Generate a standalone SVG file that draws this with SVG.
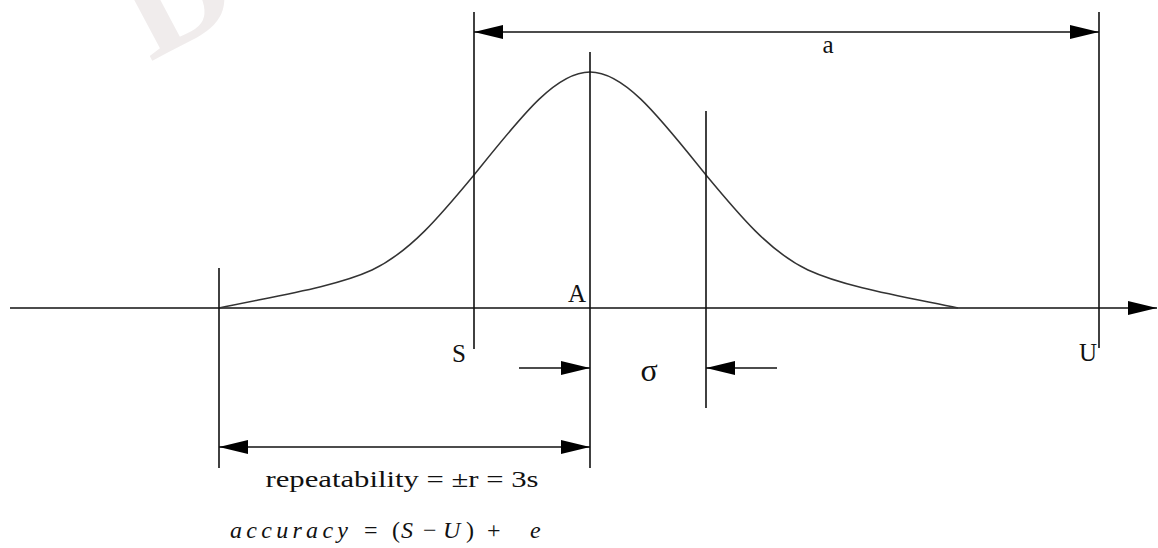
<svg xmlns="http://www.w3.org/2000/svg" width="1158" height="548" viewBox="0 0 1158 548">
<style>
.ln{stroke:#111;stroke-width:1.6;fill:none}
.cv{stroke:#333;stroke-width:1.5;fill:none}
.t{font-family:"Liberation Serif","Times New Roman",serif;fill:#111}
.lb{font-size:25px;text-anchor:middle}
</style>
<defs>
<marker id="ah" markerUnits="userSpaceOnUse" markerWidth="30" markerHeight="16" refX="29" refY="8" orient="auto-start-reverse">
<path d="M0,1 L29,8 L0,15 Z" fill="#000"/>
</marker>
</defs>
<rect width="1158" height="548" fill="#fff"/>
<text x="150" y="62" transform="rotate(-28 150 62)" font-family="Liberation Serif, serif" font-weight="bold" font-size="150" fill="#f0ecec">D</text>
<g id="axis"><line class="ln" x1="10" y1="308" x2="1157" y2="308" marker-end="url(#ah)"/></g>
<g id="curve"><path class="cv" d="M219,308 C275,296 335,287 372,270 C410,252 440,216 474,175 C520,118 555,72 590,72 C625,72 660,118 706,175 C740,216 770,252 808,270 C845,287 900,296 958,308"/></g>
<g id="lines">
<line class="ln" x1="219" y1="268" x2="219" y2="468"/>
<line class="ln" x1="474" y1="12" x2="474" y2="349"/>
<line class="ln" x1="590" y1="52" x2="590" y2="468"/>
<line class="ln" x1="706" y1="111" x2="706" y2="408"/>
<line class="ln" x1="1099" y1="12" x2="1099" y2="348"/>
</g>
<g id="connectors">
<line class="ln" x1="474" y1="32" x2="1099" y2="32" marker-start="url(#ah)" marker-end="url(#ah)"/>
<line class="ln" x1="519" y1="368" x2="590" y2="368" marker-end="url(#ah)"/>
<line class="ln" x1="777" y1="368" x2="706" y2="368" marker-end="url(#ah)"/>
<line class="ln" x1="219" y1="447" x2="590" y2="447" marker-start="url(#ah)" marker-end="url(#ah)"/>
</g>
<g id="labels">
<text class="t lb" x="828" y="53">a</text>
<text class="t lb" x="577" y="302">A</text>
<text class="t lb" x="459" y="362">S</text>
<text class="t lb" x="1088" y="361">U</text>
<text class="t" x="649" y="381" font-size="32" text-anchor="middle">σ</text>
<text class="t" x="402" y="487" font-size="23" text-anchor="middle" textLength="273" lengthAdjust="spacingAndGlyphs">repeatability = ±r = 3s</text>
<text class="t" y="538" font-size="24"><tspan x="230" font-style="italic" letter-spacing="4" textLength="122" lengthAdjust="spacing">accuracy</tspan><tspan x="364">=</tspan><tspan x="392">(</tspan><tspan x="401" font-style="italic">S</tspan><tspan x="423">−</tspan><tspan x="443" font-style="italic">U</tspan><tspan x="466">)</tspan><tspan x="487">+</tspan><tspan x="530" font-style="italic">e</tspan></text>
</g>
</svg>
